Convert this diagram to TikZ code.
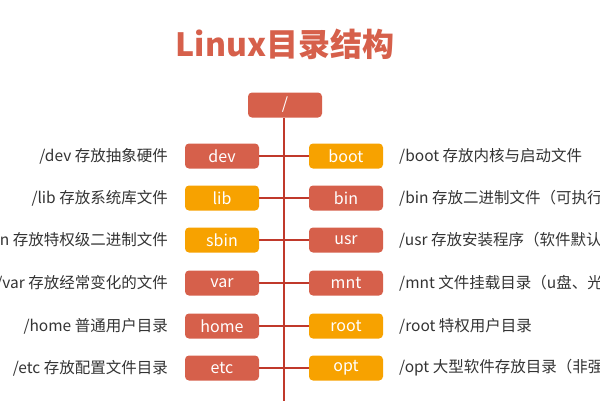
\documentclass[tikz,border=0pt]{standalone}
\usepackage{fontspec}
\setmainfont{Noto Sans CJK SC}
\usepackage{xcolor}
\usetikzlibrary{positioning}

\definecolor{dirred}{HTML}{D6604B}
\definecolor{dirorange}{HTML}{F7A200}
\definecolor{trunkred}{HTML}{C0392B}
\definecolor{labelgray}{HTML}{333333}

\begin{document}
\begin{tikzpicture}[x=1pt, y=-1pt,
  dirbox/.style={rectangle, rounded corners=4pt, minimum width=74pt, minimum height=25pt, text=white, font=\fontsize{16}{18}\selectfont, inner sep=0pt},
  redbox/.style={dirbox, fill=dirred},
  orangebox/.style={dirbox, fill=dirorange},
  note/.style={text=labelgray, font=\fontsize{15.5}{17}\selectfont, inner sep=0pt},
  lnote/.style={note, anchor=east},
  rnote/.style={note, anchor=west},
  link/.style={draw=trunkred, line width=1.1pt}
]
\useasboundingbox (0,0) rectangle (600,400);
\clip (0,0) rectangle (600,400);

% Title
\node[text=dirred, font=\fontsize{32}{36}\bfseries] (title) at (285,44) {Linux目录结构};

% Root directory and trunk
\node[redbox] (root) at (285,105) {/};
\coordinate (trunkend) at (284,402);
\draw[link] (root.south -| trunkend) -- (trunkend);

% Left column
\node[redbox]    (dev)  at (222,156) {dev};
\node[orangebox] (lib)  at (222,198) {lib};
\node[orangebox] (sbin) at (222,240) {sbin};
\node[redbox]    (var)  at (222,283) {var};
\node[redbox]    (home) at (222,326) {home};
\node[redbox]    (etc)  at (222,368) {etc};

% Right column
\node[orangebox] (boot)  at (346,156) {boot};
\node[redbox]    (bin)   at (346,198) {bin};
\node[redbox]    (usr)   at (346,240) {usr};
\node[redbox]    (mnt)   at (346,283) {mnt};
\node[orangebox] (rootd) at (346,326) {root};
\node[orangebox] (opt)   at (346,368) {opt};

% Connectors to the trunk
\draw[link] (dev.east)  -- (dev.east -| trunkend);
\draw[link] (lib.east)  -- (lib.east -| trunkend);
\draw[link] (sbin.east) -- (sbin.east -| trunkend);
\draw[link] (var.east)  -- (var.east -| trunkend);
\draw[link] (home.east) -- (home.east -| trunkend);
\draw[link] (etc.east)  -- (etc.east -| trunkend);
\draw[link] (boot.west)  -- (boot.west -| trunkend);
\draw[link] (bin.west)   -- (bin.west -| trunkend);
\draw[link] (usr.west)   -- (usr.west -| trunkend);
\draw[link] (mnt.west)   -- (mnt.west -| trunkend);
\draw[link] (rootd.west) -- (rootd.west -| trunkend);
\draw[link] (opt.west)   -- (opt.west -| trunkend);

% Descriptions, left
\node[lnote] (devnote)  at (168,156) {/dev 存放抽象硬件};
\node[lnote] (libnote)  at (168,198) {/lib 存放系统库文件};
\node[lnote] (sbinnote) at (168,240) {/sbin 存放特权级二进制文件};
\node[lnote] (varnote)  at (168,283) {/var 存放经常变化的文件};
\node[lnote] (homenote) at (168,326) {/home 普通用户目录};
\node[lnote] (etcnote)  at (168,368) {/etc 存放配置文件目录};

% Descriptions, right
\node[rnote] (bootnote) at (399,156) {/boot 存放内核与启动文件};
\node[rnote] (binnote)  at (399,198) {/bin 存放二进制文件（可执行};
\node[rnote] (usrnote)  at (399,240) {/usr 存放安装程序（软件默认};
\node[rnote] (mntnote)  at (399,283) {/mnt 文件挂载目录（u盘、光};
\node[rnote] (rootnote) at (399,326) {/root 特权用户目录};
\node[rnote] (optnote)  at (399,368) {/opt 大型软件存放目录（非强};
\end{tikzpicture}
\end{document}
